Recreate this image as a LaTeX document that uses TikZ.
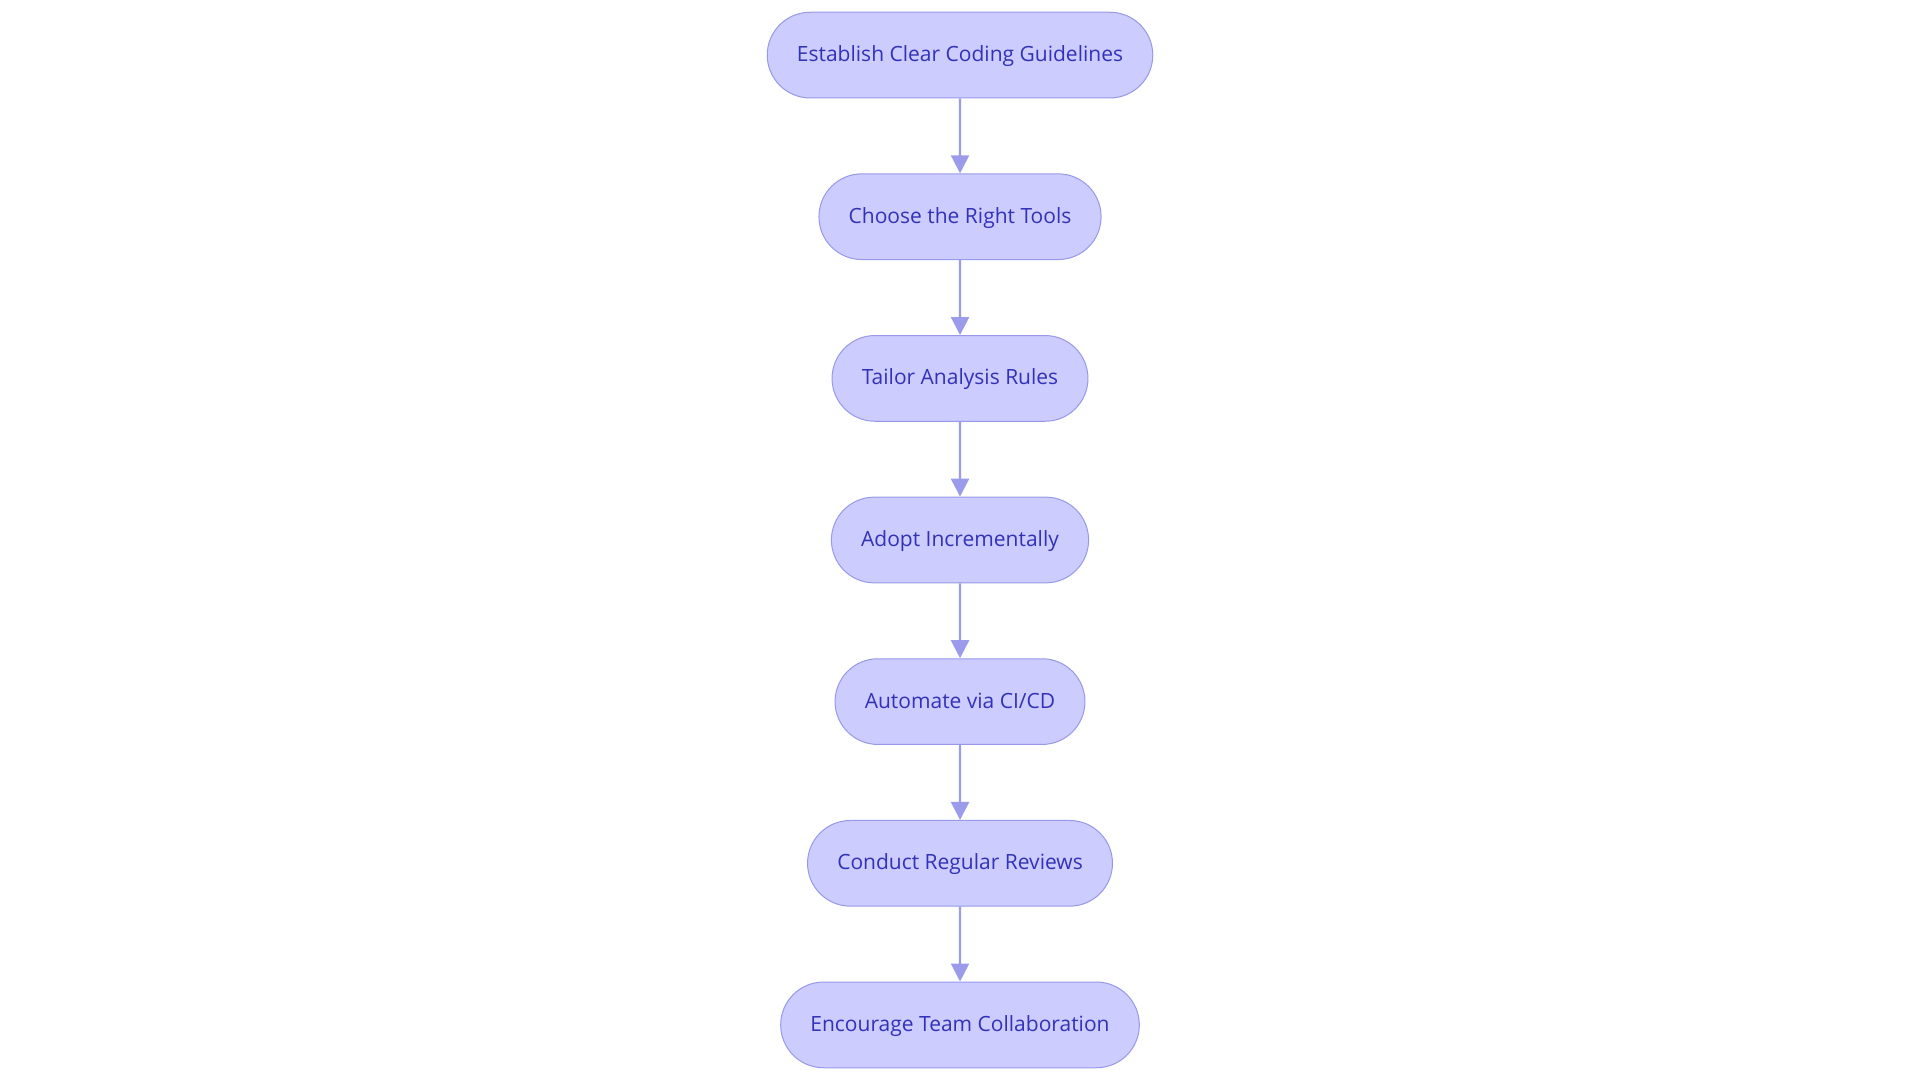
\documentclass[tikz,border=0pt]{standalone}
\usepackage{fontspec}
\setmainfont{Open Sans}
\usetikzlibrary{shapes.misc,arrows.meta}
\definecolor{nodefill}{RGB}{204,204,255}
\definecolor{nodeline}{RGB}{152,152,232}
\definecolor{nodetext}{RGB}{50,50,185}
\definecolor{arrowcol}{RGB}{155,155,235}
\begin{document}
\begin{tikzpicture}[x=0.5pt,y=-0.5pt,
  stepbox/.style={rounded rectangle, draw=nodeline, line width=0.5pt, fill=nodefill,
    text=nodetext, font=\fontsize{10.5pt}{12pt}\selectfont, minimum height=42.85pt,
    text height=9.2pt, text depth=2.8pt,
    inner xsep=14pt, inner ysep=0pt},
  flow/.style={draw=arrowcol, line width=1.1pt, -{Triangle[length=9pt,width=9pt]}}]
\useasboundingbox (0,0) rectangle (1920,1080);
\node[stepbox] (n1) at (960,55.1) {Establish Clear Coding Guidelines};
\node[stepbox] (n2) at (960,216.7) {Choose the Right Tools};
\node[stepbox] (n3) at (960,378.4) {Tailor Analysis Rules};
\node[stepbox] (n4) at (960,540) {Adopt Incrementally};
\node[stepbox] (n5) at (960,701.6) {Automate via CI/CD};
\node[stepbox] (n6) at (960,863.3) {Conduct Regular Reviews};
\node[stepbox] (n7) at (960,1024.9) {Encourage Team Collaboration};
\draw[flow] (n1) -- (n2);
\draw[flow] (n2) -- (n3);
\draw[flow] (n3) -- (n4);
\draw[flow] (n4) -- (n5);
\draw[flow] (n5) -- (n6);
\draw[flow] (n6) -- (n7);
\end{tikzpicture}
\end{document}
